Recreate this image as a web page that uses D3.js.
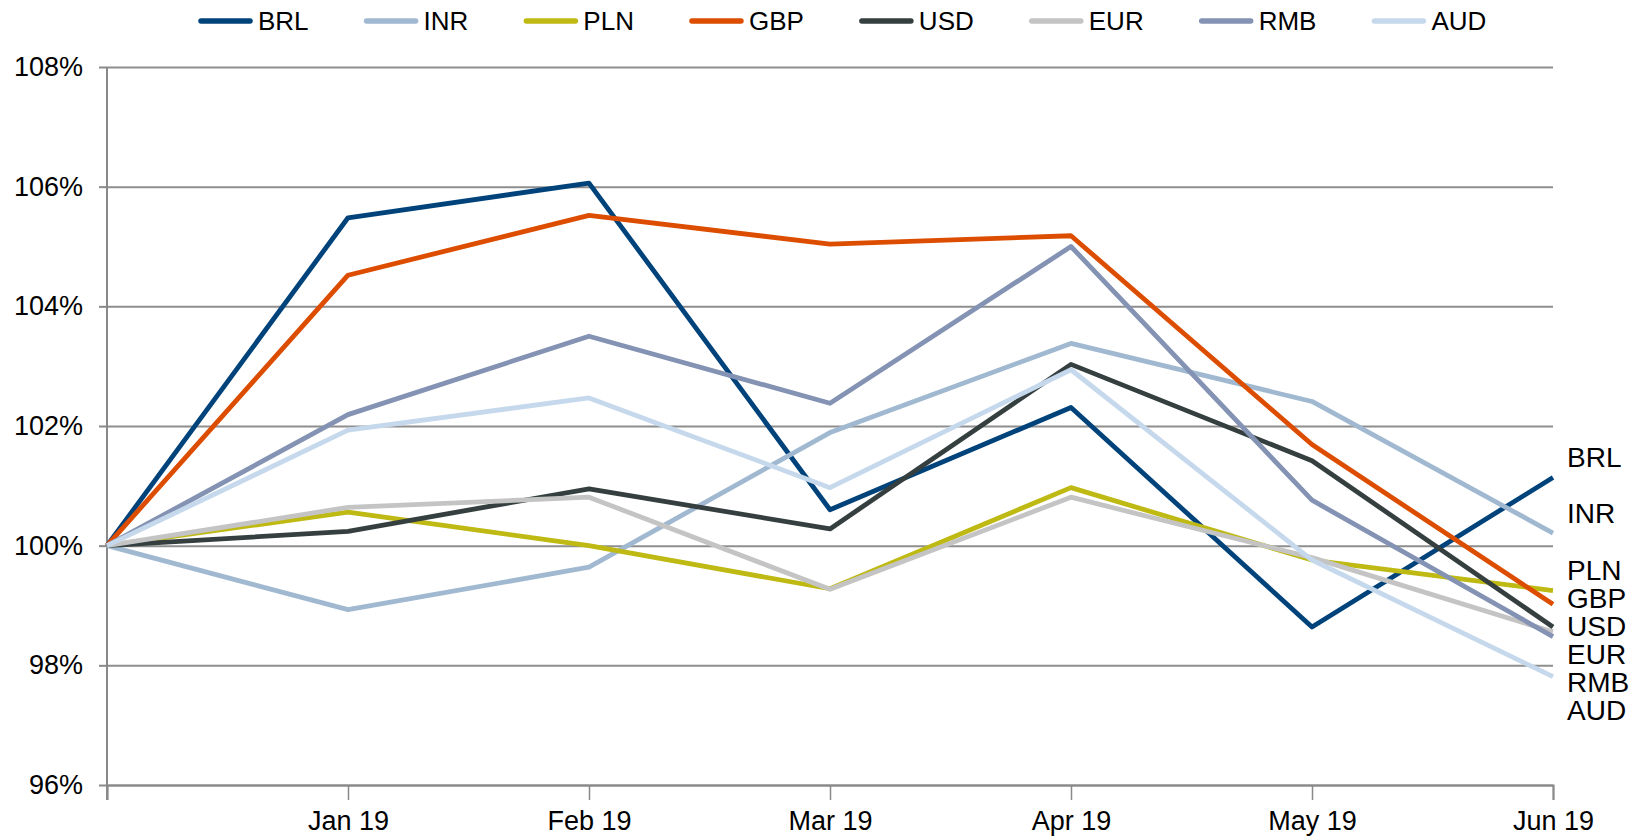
<!DOCTYPE html>
<html lang="en">
<head>
  <meta charset="UTF-8">
  <title>Currency index</title>
  <style>
    body { margin: 0; background: #ffffff; }
    * { font-family: "Liberation Sans", Arial, sans-serif; }
    .axis text { fill: #000; font-size: 27px; }
    .legend-label { font-size: 26px; fill: #000; }
    .end-label { font-size: 28px; fill: #000; }
  </style>
</head>
<body>
  <div id="my_dataviz"></div>

  <script src="https://d3js.org/d3.v7.min.js"></script>
  <script>
    // ## Data (index, start = 100%)
    const categories = ["", "Jan 19", "Feb 19", "Mar 19", "Apr 19", "May 19", "Jun 19"];
    const currencies = ["BRL", "INR", "PLN", "GBP", "USD", "EUR", "RMB", "AUD"];
    const brl = [100, 105.48, 106.06, 100.60, 102.31, 98.64, 101.14];
    const inr = [100, 98.93, 99.64, 101.89, 103.38, 102.41, 100.21];
    const pln = [100, 100.56, 100.00, 99.28, 100.97, 99.76, 99.25];
    const gbp = [100, 104.52, 105.52, 105.04, 105.18, 101.69, 99.02];
    const usd = [100, 100.24, 100.95, 100.28, 103.03, 101.42, 98.64];
    const eur = [100, 100.64, 100.81, 99.27, 100.81, 99.80, 98.56];
    const rmb = [100, 102.19, 103.50, 102.38, 105.00, 100.76, 98.48];
    const aud = [100, 101.93, 102.47, 100.97, 102.94, 99.76, 97.81];
    const yTicks = [96, 98, 100, 102, 104, 106, 108];

    const colors = ["#00437b", "#a0b9d1", "#bfb914", "#dc4d00", "#353f3f", "#c4c4c4", "#8493b3", "#c6d9ec"];
    const seriesValues = [brl, inr, pln, gbp, usd, eur, rmb, aud];

    const series = currencies.map((name, i) => ({
      name: name,
      color: colors[i],
      values: seriesValues[i].map((v, j) => ({cat: categories[j], value: v}))
    }));

    // ## Dimensions
    let dimensions = {
      width: 1630,
      height: 838,
      margin: {top: 67, right: 77, bottom: 53, left: 107}
    };
    dimensions.boundedWidth = dimensions.width - dimensions.margin.left - dimensions.margin.right;
    dimensions.boundedHeight = dimensions.height - dimensions.margin.top - dimensions.margin.bottom;

    const svg = d3.select("#my_dataviz")
      .append("svg")
        .attr("width", dimensions.width)
        .attr("height", dimensions.height);

    const bounds = svg.append("g")
      .attr("transform", `translate(${dimensions.margin.left},${dimensions.margin.top})`);

    // ## Scales
    const xScale = d3.scalePoint()
      .domain(categories)
      .range([0, dimensions.boundedWidth]);

    const yScale = d3.scaleLinear()
      .domain([96, 108])
      .range([dimensions.boundedHeight, 0]);

    // ## Gridlines + y axis
    const yAxis = bounds.append("g")
      .attr("class", "axis")
      .call(d3.axisLeft(yScale)
        .tickValues(yTicks)
        .tickSize(8)
        .tickPadding(16)
        .tickFormat(d => d + "%"))
      .call(g => g.select(".domain").remove())
      .call(g => g.selectAll(".tick line").attr("stroke", "#898989").attr("stroke-width", 2));

    bounds.append("g")
      .call(d3.axisRight(yScale)
        .tickValues(yTicks)
        .tickSize(dimensions.boundedWidth)
        .tickFormat(""))
      .call(g => g.select(".domain").remove())
      .call(g => g.selectAll(".tick line").attr("stroke", "#8e8e8e").attr("stroke-width", 2));

    // ## X axis
    const xAxis = bounds.append("g")
      .attr("class", "axis")
      .attr("transform", `translate(0,${dimensions.boundedHeight})`)
      .call(d3.axisBottom(xScale)
        .tickSize(15)
        .tickPadding(11))
      .call(g => g.select(".domain").attr("stroke", "#898989").attr("stroke-width", 2))
      .call(g => g.selectAll(".tick line").attr("stroke", "#898989").attr("stroke-width", 1.5));

    // vertical axis line, drawn down to the x tick marks
    bounds.append("line")
      .attr("x1", 0).attr("x2", 0)
      .attr("y1", 0).attr("y2", dimensions.boundedHeight + 15)
      .attr("stroke", "#898989")
      .attr("stroke-width", 2);

    // ## Lines
    const lineGen = d3.line()
      .x(d => xScale(d.cat))
      .y(d => yScale(d.value));

    bounds.selectAll(".series")
      .data(series)
      .enter()
      .append("path")
        .attr("class", "series")
        .attr("fill", "none")
        .attr("stroke", d => d.color)
        .attr("stroke-width", 4.8)
        .attr("stroke-linejoin", "round")
        .attr("d", d => lineGen(d.values));

    // ## End labels (sorted by last value, pushed apart)
    const lastCat = categories[categories.length - 1];
    const labelGap = 28;
    const ends = series
      .map(s => ({name: s.name, y: yScale(s.values[s.values.length - 1].value) - 20}))
      .sort((a, b) => a.y - b.y);
    for (let i = 1; i < ends.length; i++) {
      ends[i].y = Math.max(ends[i].y, ends[i - 1].y + labelGap);
    }

    bounds.selectAll(".end-label")
      .data(ends)
      .enter()
      .append("text")
        .attr("class", "end-label")
        .attr("x", xScale(lastCat) + 14)
        .attr("y", d => d.y)
        .attr("dy", "0.35em")
        .text(d => d.name);

    // ## Legend
    const legend = svg.append("g").attr("transform", "translate(0,21)");
    const legendItems = legend.selectAll(".legend-item")
      .data(series)
      .enter()
      .append("g")
        .attr("class", "legend-item");

    legendItems.append("line")
      .attr("x1", 3).attr("x2", 52)
      .attr("stroke", d => d.color)
      .attr("stroke-width", 5.5)
      .attr("stroke-linecap", "round");

    legendItems.append("text")
      .attr("class", "legend-label")
      .attr("x", 60)
      .attr("dy", "0.35em")
      .text(d => d.name);

    let cursor = 198;
    legendItems.each(function() {
      const w = d3.select(this).select("text").node().getComputedTextLength();
      d3.select(this).attr("transform", `translate(${cursor},0)`);
      cursor += 60 + w + 55;
    });
  </script>
</body>
</html>
